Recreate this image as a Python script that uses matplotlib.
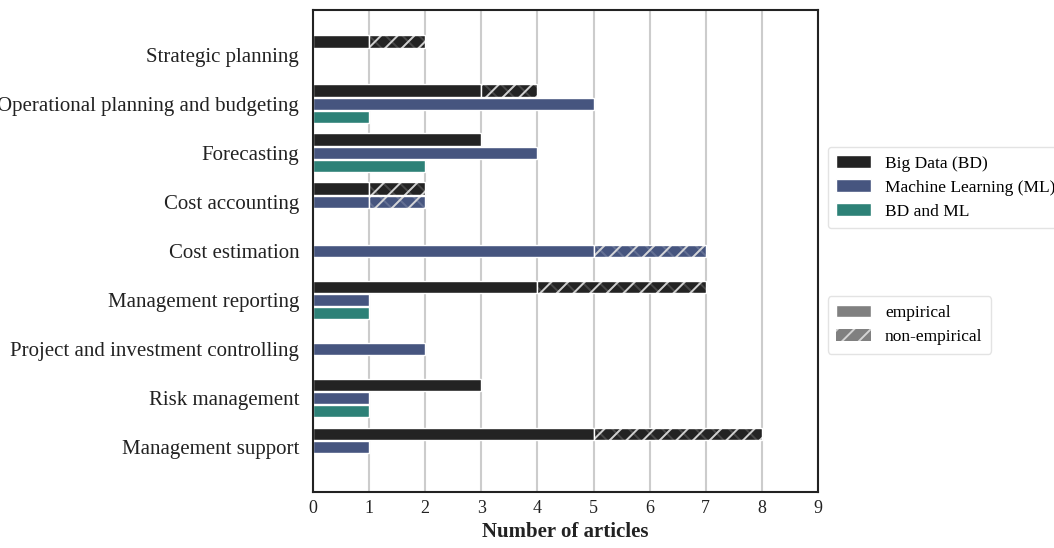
import numpy as np
import matplotlib
matplotlib.use("Agg")
import matplotlib.pyplot as plt
from matplotlib.patches import Patch

plt.rcParams['font.family'] = ['Liberation Serif', 'DejaVu Serif']
plt.rcParams['hatch.linewidth'] = 1.4

categories = [
    "Strategic planning",
    "Operational planning and budgeting",
    "Forecasting",
    "Cost accounting",
    "Cost estimation",
    "Management reporting",
    "Project and investment controlling",
    "Risk management",
    "Management support",
]
series_names = ["Big Data (BD)", "Machine Learning (ML)", "BD and ML"]
series_colors = ["#232323", "#46557f", "#2d8177"]

# empirical / non-empirical article counts per series
bd_emp = [1, 3, 3, 1, 0, 4, 0, 3, 5]
bd_non = [1, 1, 0, 1, 0, 3, 0, 0, 3]
ml_emp = [0, 5, 4, 1, 5, 1, 2, 1, 1]
ml_non = [0, 0, 0, 1, 2, 0, 0, 0, 0]
both_emp = [0, 1, 2, 0, 0, 1, 0, 1, 0]
both_non = [0, 0, 0, 0, 0, 0, 0, 0, 0]

empirical = [bd_emp, ml_emp, both_emp]
non_empirical = [bd_non, ml_non, both_non]

fig = plt.figure(figsize=(10.54, 5.48), dpi=100)
ax = fig.add_axes([0.297, 0.102, 0.479, 0.880])

y = np.arange(len(categories))
offsets = [-0.27, 0.0, 0.27]
h = 0.255

for k in range(3):
    emp = np.array(empirical[k])
    non = np.array(non_empirical[k])
    yy = y + offsets[k]
    e = emp > 0
    ax.barh(yy[e], emp[e], height=h, color=series_colors[k], edgecolor="white",
            linewidth=1.0, zorder=3)
    m = non > 0
    ax.barh(yy[m], non[m], left=emp[m], height=h, color=series_colors[k],
            edgecolor=(0.85, 0.85, 0.85, 0.9), linewidth=0.0, hatch="//",
            zorder=3)
    ax.barh(yy[m], non[m], left=emp[m], height=h, color="none",
            edgecolor=(1, 1, 1, 0.16), linewidth=0.0, hatch="xx", zorder=3)
    ax.barh(yy[m], non[m], left=emp[m], height=h, color="none",
            edgecolor="white", linewidth=1.0, zorder=4)

ax.set_xlim(0, 9)
ax.set_ylim(8.92, -0.92)
ax.set_xticks(range(10))
ax.set_yticks(y)
ax.set_yticklabels(categories, fontsize=15, color="#222222")
ax.tick_params(axis='x', labelsize=13, length=0, pad=6, labelcolor="#222222")
ax.tick_params(axis='y', length=0, pad=10)
ax.xaxis.grid(True, color="#cccccc", linewidth=1.5, zorder=0)
ax.set_axisbelow(True)
for s in ax.spines.values():
    s.set_color("#222222")
    s.set_linewidth(1.5)
    s.set_zorder(6)
ax.set_xlabel("Number of articles", fontsize=15, fontweight="bold",
              labelpad=3, color="#222222")

h1 = [Patch(facecolor=c, edgecolor="white") for c in series_colors]
leg1 = fig.legend(h1, series_names, loc="upper left",
                  bbox_to_anchor=(0.777, 0.748), fontsize=12.5, frameon=True,
                  handlelength=2.0, handleheight=0.7, borderpad=0.5,
                  labelspacing=0.45)
leg1.get_frame().set_edgecolor("#dddddd")

h2 = [Patch(facecolor="#808080", edgecolor="white"),
      Patch(facecolor="#808080", edgecolor="#d4d4d4", hatch="//", linewidth=0)]
leg2 = fig.legend(h2, ["empirical", "non-empirical"], loc="upper left",
                  bbox_to_anchor=(0.777, 0.475), fontsize=12.5, frameon=True,
                  handlelength=2.0, handleheight=0.7, borderpad=0.5,
                  labelspacing=0.45)
leg2.get_frame().set_edgecolor("#dddddd")

fig.savefig("out.png", dpi=100)
